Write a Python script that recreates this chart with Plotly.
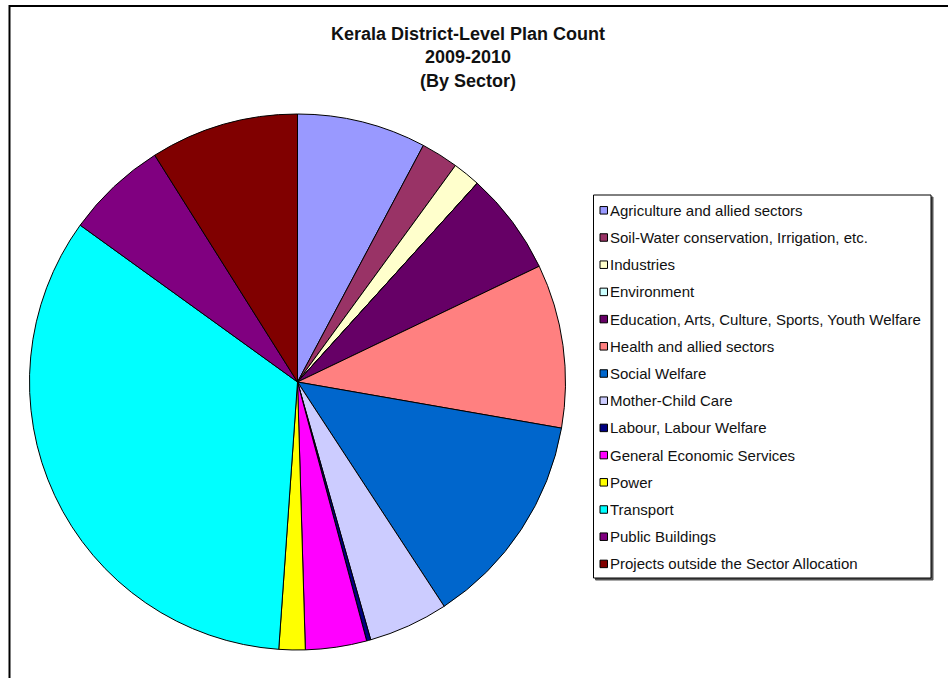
import plotly.graph_objects as go

# ---- data ----
sectors = [
    "Agriculture and allied sectors",
    "Soil-Water conservation, Irrigation, etc.",
    "Industries",
    "Environment",
    "Education, Arts, Culture, Sports, Youth Welfare",
    "Health and allied sectors",
    "Social Welfare",
    "Mother-Child Care",
    "Labour, Labour Welfare",
    "General Economic Services",
    "Power",
    "Transport",
    "Public Buildings",
    "Projects outside the Sector Allocation",
]
share_pct = [7.78, 2.25, 1.67, 0.0, 6.19, 9.86, 13.03, 4.81, 0.25, 3.69, 1.58, 33.83, 6.11, 8.94]
colors = ["#9999FF", "#993366", "#FFFFCC", "#CCFFFF", "#660066", "#FF8080", "#0066CC",
          "#CCCCFF", "#000080", "#FF00FF", "#FFFF00", "#00FFFF", "#800080", "#800000"]
title_lines = ["Kerala District-Level Plan Count", "2009-2010", "(By Sector)"]

W, H = 948, 678


def px(x):
    return x / W


def py(y):
    return 1 - y / H


fig = go.Figure()
fig.add_trace(go.Pie(
    labels=sectors,
    values=share_pct,
    sort=False,
    direction="clockwise",
    rotation=0,
    marker=dict(colors=colors, line=dict(color="black", width=1)),
    textinfo="none",
    hoverinfo="label+percent",
    showlegend=False,
    domain=dict(x=[px(29.5), px(565.5)], y=[py(650), py(114)]),
))

shapes = []
annotations = []

# outer frame
shapes.append(dict(type="rect", xref="paper", yref="paper",
                   x0=px(9.5), x1=px(990), y0=py(720), y1=py(6),
                   line=dict(color="black", width=2), fillcolor="rgba(0,0,0,0)", layer="above"))

# legend box with shadow
lx0, lx1, ly0, ly1 = 593.5, 931, 195, 578
shapes.append(dict(type="rect", xref="paper", yref="paper",
                   x0=px(lx0 + 2), x1=px(lx1 + 2), y0=py(ly1 + 2), y1=py(ly0 + 2),
                   line=dict(color="#555555", width=1), fillcolor="#555555", layer="above"))
shapes.append(dict(type="rect", xref="paper", yref="paper",
                   x0=px(lx0), x1=px(lx1), y0=py(ly1), y1=py(ly0),
                   line=dict(color="black", width=1), fillcolor="white", layer="above"))

row0, row_step = 210.3, 27.2
for i, (name, col) in enumerate(zip(sectors, colors)):
    yc = row0 + i * row_step
    shapes.append(dict(type="rect", xref="paper", yref="paper",
                       x0=px(600), x1=px(607.5), y0=py(yc + 3.75), y1=py(yc - 3.75),
                       line=dict(color="black", width=1), fillcolor=col, layer="above"))
    annotations.append(dict(xref="paper", yref="paper", x=px(607.5), y=py(yc),
                            xanchor="left", yanchor="middle", showarrow=False,
                            text=name,
                            font=dict(family="Liberation Sans, Arial, sans-serif", size=15, color="#111111")))

annotations.append(dict(xref="paper", yref="paper", x=px(467.5), y=py(57.3),
                        xanchor="center", yanchor="middle", showarrow=False,
                        text="<b>" + "<br>".join(title_lines) + "</b>",
                        font=dict(family="Liberation Sans, Arial, sans-serif", size=18, color="#111111")))

fig.update_layout(
    width=W, height=H,
    margin=dict(l=0, r=0, t=0, b=0),
    paper_bgcolor="white",
    plot_bgcolor="white",
    shapes=shapes,
    annotations=annotations,
    showlegend=False,
)

fig.write_html("out.html")
